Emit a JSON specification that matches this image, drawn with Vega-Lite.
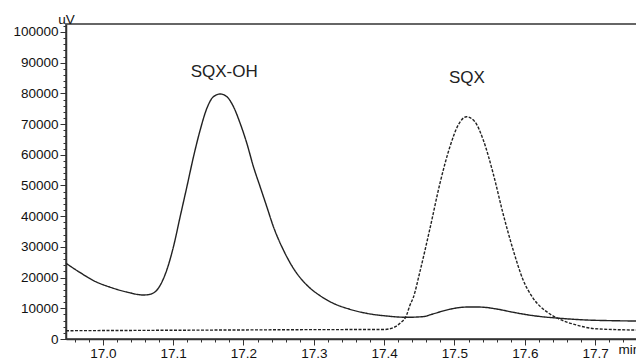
{
  "$schema": "https://vega.github.io/schema/vega-lite/v6.json",
  "width": 572,
  "height": 315,
  "autosize": "none",
  "padding": {"left": 66, "top": 24, "right": 0, "bottom": 24},
  "config": {
    "view": {"stroke": "#666", "strokeWidth": 2},
    "font": "Liberation Sans"
  },
  "resolve": {"axis": {"x": "independent", "y": "independent"}},
  "datasets": {
    "curves": [
      {"t": 16.9477, "uV": 24660, "series": "SQX-OH"},
      {"t": 16.968, "uV": 21600, "series": "SQX-OH"},
      {"t": 16.987, "uV": 19000, "series": "SQX-OH"},
      {"t": 17.011, "uV": 16840, "series": "SQX-OH"},
      {"t": 17.034, "uV": 15300, "series": "SQX-OH"},
      {"t": 17.058, "uV": 14330, "series": "SQX-OH"},
      {"t": 17.066, "uV": 14500, "series": "SQX-OH"},
      {"t": 17.077, "uV": 15960, "series": "SQX-OH"},
      {"t": 17.091, "uV": 22480, "series": "SQX-OH"},
      {"t": 17.1005, "uV": 30070, "series": "SQX-OH"},
      {"t": 17.11, "uV": 39840, "series": "SQX-OH"},
      {"t": 17.1196, "uV": 49610, "series": "SQX-OH"},
      {"t": 17.129, "uV": 59380, "series": "SQX-OH"},
      {"t": 17.1385, "uV": 68080, "series": "SQX-OH"},
      {"t": 17.148, "uV": 75150, "series": "SQX-OH"},
      {"t": 17.1574, "uV": 78930, "series": "SQX-OH"},
      {"t": 17.1669, "uV": 79800, "series": "SQX-OH"},
      {"t": 17.1764, "uV": 78930, "series": "SQX-OH"},
      {"t": 17.1858, "uV": 75670, "series": "SQX-OH"},
      {"t": 17.1953, "uV": 70260, "series": "SQX-OH"},
      {"t": 17.2048, "uV": 63750, "series": "SQX-OH"},
      {"t": 17.2142, "uV": 56120, "series": "SQX-OH"},
      {"t": 17.2237, "uV": 49610, "series": "SQX-OH"},
      {"t": 17.2332, "uV": 43090, "series": "SQX-OH"},
      {"t": 17.2426, "uV": 36580, "series": "SQX-OH"},
      {"t": 17.2568, "uV": 28990, "series": "SQX-OH"},
      {"t": 17.271, "uV": 23030, "series": "SQX-OH"},
      {"t": 17.29, "uV": 17590, "series": "SQX-OH"},
      {"t": 17.309, "uV": 14100, "series": "SQX-OH"},
      {"t": 17.3278, "uV": 11630, "series": "SQX-OH"},
      {"t": 17.3515, "uV": 9670, "series": "SQX-OH"},
      {"t": 17.375, "uV": 8370, "series": "SQX-OH"},
      {"t": 17.4037, "uV": 7490, "series": "SQX-OH"},
      {"t": 17.432, "uV": 7070, "series": "SQX-OH"},
      {"t": 17.4557, "uV": 7300, "series": "SQX-OH"},
      {"t": 17.4699, "uV": 8200, "series": "SQX-OH"},
      {"t": 17.4936, "uV": 9700, "series": "SQX-OH"},
      {"t": 17.517, "uV": 10400, "series": "SQX-OH"},
      {"t": 17.536, "uV": 10400, "series": "SQX-OH"},
      {"t": 17.56, "uV": 9770, "series": "SQX-OH"},
      {"t": 17.5835, "uV": 8700, "series": "SQX-OH"},
      {"t": 17.612, "uV": 7600, "series": "SQX-OH"},
      {"t": 17.65, "uV": 6740, "series": "SQX-OH"},
      {"t": 17.6877, "uV": 6190, "series": "SQX-OH"},
      {"t": 17.7255, "uV": 5960, "series": "SQX-OH"},
      {"t": 17.761, "uV": 5850, "series": "SQX-OH"},
      {"t": 16.9477, "uV": 2700, "series": "SQX"},
      {"t": 17.1, "uV": 2850, "series": "SQX"},
      {"t": 17.2, "uV": 2950, "series": "SQX"},
      {"t": 17.3, "uV": 3050, "series": "SQX"},
      {"t": 17.4, "uV": 3100, "series": "SQX"},
      {"t": 17.413, "uV": 3700, "series": "SQX"},
      {"t": 17.4225, "uV": 5100, "series": "SQX"},
      {"t": 17.432, "uV": 7800, "series": "SQX"},
      {"t": 17.4367, "uV": 11000, "series": "SQX"},
      {"t": 17.4415, "uV": 13500, "series": "SQX"},
      {"t": 17.451, "uV": 22000, "series": "SQX"},
      {"t": 17.4652, "uV": 36000, "series": "SQX"},
      {"t": 17.4794, "uV": 50700, "series": "SQX"},
      {"t": 17.4936, "uV": 62640, "series": "SQX"},
      {"t": 17.5054, "uV": 69700, "series": "SQX"},
      {"t": 17.517, "uV": 72400, "series": "SQX"},
      {"t": 17.529, "uV": 70780, "series": "SQX"},
      {"t": 17.541, "uV": 64820, "series": "SQX"},
      {"t": 17.555, "uV": 53970, "series": "SQX"},
      {"t": 17.569, "uV": 40950, "series": "SQX"},
      {"t": 17.5835, "uV": 29000, "series": "SQX"},
      {"t": 17.5977, "uV": 19200, "series": "SQX"},
      {"t": 17.612, "uV": 13250, "series": "SQX"},
      {"t": 17.631, "uV": 8900, "series": "SQX"},
      {"t": 17.65, "uV": 6400, "series": "SQX"},
      {"t": 17.6735, "uV": 4560, "series": "SQX"},
      {"t": 17.7, "uV": 3360, "series": "SQX"},
      {"t": 17.761, "uV": 2900, "series": "SQX"}
    ],
    "labels": [
      {"t": 17.1726, "uV": 87000, "label": "SQX-OH"},
      {"t": 17.5177, "uV": 85000, "label": "SQX"}
    ]
  },
  "layer": [
    {
      "data": {"name": "curves"},
      "mark": {"type": "line", "interpolate": "monotone", "strokeWidth": 1.4, "color": "#222"},
      "encoding": {
        "x": {
          "field": "t", "type": "quantitative",
          "scale": {"domain": [16.9477, 17.761], "nice": false, "zero": false},
          "axis": {
            "orient": "bottom",
            "values": [17.0, 17.1, 17.2, 17.3, 17.4, 17.5, 17.6, 17.7],
            "format": ".1f",
            "tickSize": 6,
            "grid": false,
            "labelFlush": false,
            "labelOverlap": false,
            "labelFontSize": 13.5,
            "labelColor": "#111",
            "labelPadding": 1,
            "tickColor": "#333",
            "domainColor": "#333",
            "domainWidth": 1.5,
            "title": "min",
            "titleX": 552,
            "titleY": 14,
            "titleAlign": "left",
            "titleBaseline": "alphabetic",
            "titleFontWeight": "normal",
            "titleFontSize": 13.5,
            "titleColor": "#111"
          }
        },
        "y": {
          "field": "uV", "type": "quantitative",
          "scale": {"domain": [0, 102600], "nice": false},
          "axis": {
            "orient": "left",
            "values": [0, 10000, 20000, 30000, 40000, 50000, 60000, 70000, 80000, 90000, 100000],
            "format": "d",
            "tickSize": 6,
            "grid": false,
            "labelOverlap": false,
            "labelFlush": false,
            "labelFontSize": 13.5,
            "labelColor": "#111",
            "labelPadding": 2,
            "tickColor": "#333",
            "domainColor": "#333",
            "domainWidth": 1.5,
            "title": "uV",
            "titleAngle": 0,
            "titleX": 0,
            "titleY": -1,
            "titleAlign": "center",
            "titleBaseline": "alphabetic",
            "titleFontWeight": "normal",
            "titleFontSize": 13.5,
            "titleColor": "#111"
          }
        },
        "strokeDash": {
          "field": "series", "type": "nominal",
          "scale": {"domain": ["SQX-OH", "SQX"], "range": [[1, 0], [3, 1.5]]},
          "legend": null
        }
      }
    },
    {
      "data": {"name": "labels"},
      "mark": {"type": "text", "fontSize": 17, "color": "#222", "font": "Liberation Sans"},
      "encoding": {
        "x": {
          "field": "t", "type": "quantitative",
          "axis": {
            "orient": "bottom",
            "values": [16.96,16.98,17.02,17.04,17.06,17.08,17.12,17.14,17.16,17.18,17.22,17.24,17.26,17.28,17.32,17.34,17.36,17.38,17.42,17.44,17.46,17.48,17.52,17.54,17.56,17.58,17.62,17.64,17.66,17.68,17.72,17.74,17.76],
            "labels": false,
            "domain": false,
            "grid": false,
            "tickSize": 3,
            "tickColor": "#333",
            "title": null
          }
        },
        "y": {
          "field": "uV", "type": "quantitative",
          "axis": {
            "orient": "left",
            "values": [2000,4000,6000,8000,12000,14000,16000,18000,22000,24000,26000,28000,32000,34000,36000,38000,42000,44000,46000,48000,52000,54000,56000,58000,62000,64000,66000,68000,72000,74000,76000,78000,82000,84000,86000,88000,92000,94000,96000,98000,102000],
            "labels": false,
            "domain": false,
            "grid": false,
            "tickSize": 3,
            "tickColor": "#333",
            "title": null
          }
        },
        "text": {"field": "label"}
      }
    }
  ]
}
